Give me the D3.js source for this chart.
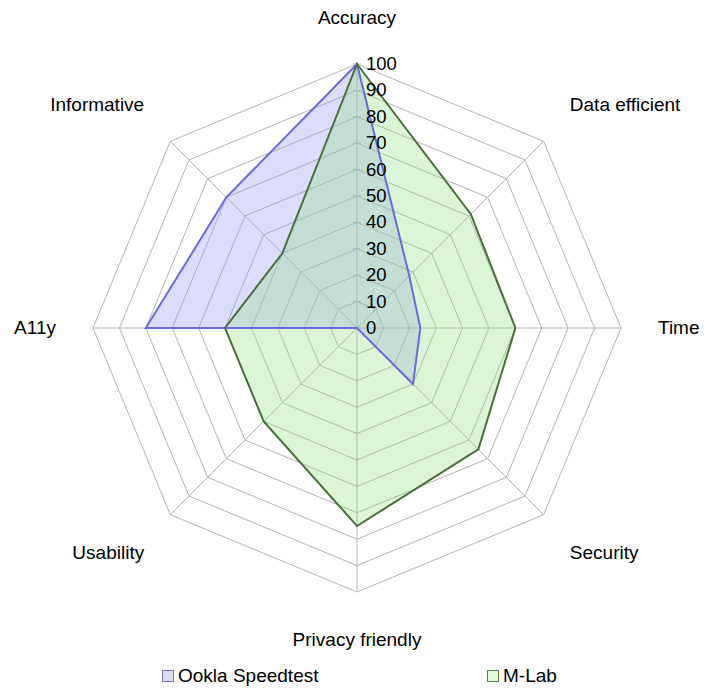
<!DOCTYPE html>
<html>
<head>
<meta charset="utf-8">
<script src="https://cdn.jsdelivr.net/npm/d3@7"></script>
<style>
  html, body { margin: 0; padding: 0; background: #fff; }
  svg { display: block; font-family: "Liberation Sans", Arial, sans-serif; }
</style>
</head>
<body>
<svg id="chart" width="720" height="695"></svg>
<script>
// radar chart: Ookla vs M-Lab, 8 criteria
const axes = ['Accuracy', 'Data efficient', 'Time', 'Security',
  'Privacy friendly', 'Usability', 'A11y', 'Informative'];
const ookla = [100, 28, 24, 30, 0, 0, 80, 70];
const mlab = [100, 61, 60, 65, 75, 50, 50, 40];
const ticks = [0, 10, 20, 30, 40, 50, 60, 70, 80, 90, 100];

const series = [
  { name: 'Ookla Speedtest', values: ookla, fill: 'rgb(150,150,250)', stroke: '#6a6ae2', box: '#dcdcfa', boxStroke: '#7a7ad0' },
  { name: 'M-Lab', values: mlab, fill: 'rgb(150,225,135)', stroke: '#4a6e3c', box: '#e0f7d8', boxStroke: '#5a7a4a' }
];

const cx = 357, cy = 328, R = 264;
const svg = d3.select('#chart');
const g = svg.append('g').attr('transform', `translate(${cx},${cy})`);

const r = d3.scaleLinear().domain([0, 100]).range([0, R]);
const ang = d3.scalePoint().domain(axes).range([0, 2 * Math.PI * (axes.length - 1) / axes.length]);
const pt = (a, v) => [Math.sin(ang(a)) * r(v), -Math.cos(ang(a)) * r(v)];

// rings
g.selectAll('.ring')
  .data(ticks.filter(t => t > 0))
  .enter().append('path')
  .attr('class', 'ring')
  .attr('fill', 'none')
  .attr('stroke', '#b3b3b3')
  .attr('stroke-width', 1)
  .attr('d', t => d3.line()(axes.map(a => pt(a, t))) + 'Z');

// spokes
g.selectAll('.spoke')
  .data(axes)
  .enter().append('line')
  .attr('class', 'spoke')
  .attr('x1', 0).attr('y1', 0)
  .attr('x2', a => pt(a, 100)[0])
  .attr('y2', a => pt(a, 100)[1])
  .attr('stroke', '#b3b3b3')
  .attr('stroke-width', 1);

// ticks on the vertical axis
g.selectAll('.tick')
  .data(ticks)
  .enter().append('line')
  .attr('x1', -4).attr('x2', 4)
  .attr('y1', t => -r(t)).attr('y2', t => -r(t))
  .attr('stroke', '#b3b3b3');

// series areas
const line = d3.lineRadial()
  .angle((d, i) => ang(axes[i]))
  .radius(d => r(d))
  .curve(d3.curveLinearClosed);

series.forEach(s => {
  g.append('path')
    .datum(s.values)
    .attr('d', line)
    .attr('fill', s.fill)
    .attr('fill-opacity', 0.33)
    .attr('stroke', 'none');
});
series.forEach(s => {
  g.append('path')
    .datum(s.values)
    .attr('d', line)
    .attr('fill', 'none')
    .attr('stroke', s.stroke)
    .attr('stroke-width', 2)
    .attr('stroke-linejoin', 'miter');
});

// tick labels
g.selectAll('.tlabel')
  .data(ticks)
  .enter().append('text')
  .attr('x', 9)
  .attr('y', t => -r(t) + 6)
  .attr('font-size', 18.5)
  .attr('fill', '#000')
  .text(t => t);

// axis labels
const dyFor = c => c > 0.9 ? 0 : c > 0.1 ? -2 : c < -0.9 ? 14 : c < -0.1 ? 16 : 6;
g.selectAll('.alabel')
  .data(axes)
  .enter().append('text')
  .attr('font-size', 19)
  .attr('fill', '#000')
  .attr('text-anchor', a => {
    const s = Math.sin(ang(a));
    return s > 0.1 ? 'start' : s < -0.1 ? 'end' : 'middle';
  })
  .attr('x', a => Math.sin(ang(a)) * 301)
  .attr('y', a => -Math.cos(ang(a)) * 304 + dyFor(Math.cos(ang(a))))
  .text(a => a);

// legend
const legendX = [162, 487];
const lg = svg.selectAll('.legend')
  .data(series)
  .enter().append('g')
  .attr('transform', (d, i) => `translate(${legendX[i]},670)`);
lg.append('rect')
  .attr('x', 0.5).attr('y', 0.5)
  .attr('width', 11).attr('height', 11)
  .attr('fill', d => d.box)
  .attr('stroke', d => d.boxStroke);
lg.append('text')
  .attr('x', 16).attr('y', 12)
  .attr('font-size', 19)
  .attr('fill', '#000')
  .text(d => d.name);
</script>
</body>
</html>
